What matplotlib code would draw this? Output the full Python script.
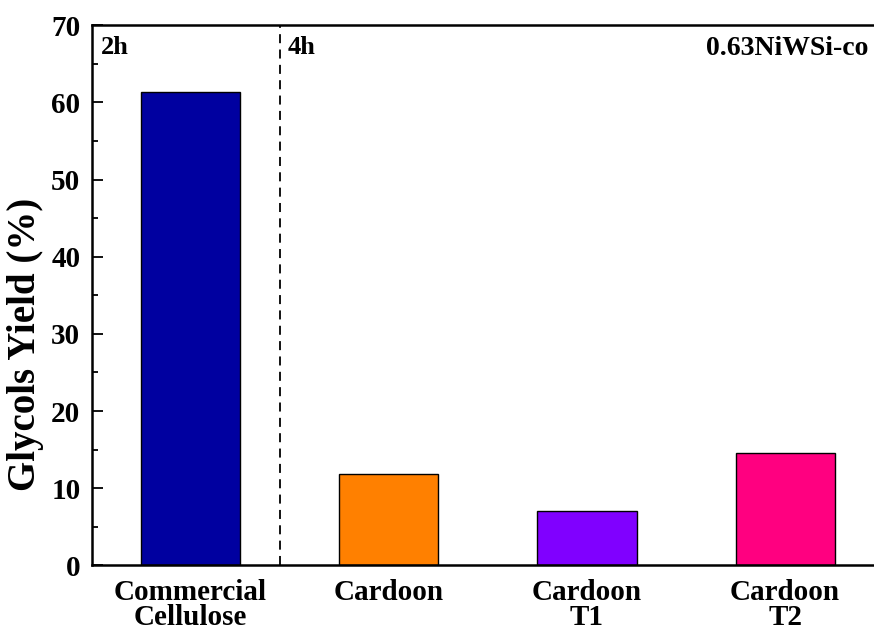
import matplotlib.pyplot as plt
import numpy as np

plt.rcParams['font.family'] = ['Liberation Serif', 'DejaVu Serif']
plt.rcParams['font.weight'] = 'bold'

samples = ['Commercial\nCellulose', 'Cardoon', 'Cardoon\nT1', 'Cardoon\nT2']
glycols_yield = [61.4, 11.9, 7.0, 14.6]
bar_colors = ['#0000A0', '#FF8000', '#8000FF', '#FF0080']

fig = plt.figure(figsize=(8.74, 6.31), dpi=100)
ax1 = fig.add_axes([0.1047, 0.104, 0.907, 0.856])

x = np.arange(1, len(samples) + 1)
ax1.bar(x, glycols_yield, width=0.5, color=bar_colors, edgecolor='black', linewidth=1.0)

# separation between 2h and 4h reactions
ax1.axvline(1.45, color='black', linestyle=(0, (5, 3.5)), linewidth=1.3)

fontSize = 21
ax1.text(0.545, 68.6, '2h', fontsize=fontSize - 2, fontweight='bold', ha='left', va='top')
ax1.text(1.49, 68.6, '4h', fontsize=fontSize - 2, fontweight='bold', ha='left', va='top')
ax1.text(4.42, 68.6, '0.63NiWSi-co', fontsize=fontSize - 1, fontweight='bold', ha='right', va='top')

ax1.set_xlim(0.5, 4.5)
ax1.set_ylim(0, 70)
ax1.set_yticks(range(0, 71, 10))
ax1.set_yticks(range(5, 70, 10), minor=True)
ax1.set_xticks(x)
ax1.set_xticklabels(samples, fontsize=fontSize, fontweight='bold', linespacing=0.9)
ax1.tick_params(axis='y', which='major', direction='in', length=8, width=1.3, labelsize=fontSize, pad=8)
ax1.tick_params(axis='y', which='minor', direction='in', length=4, width=1.3)
ax1.tick_params(axis='x', length=0, pad=10)
for lbl in ax1.get_yticklabels():
    lbl.set_fontweight('bold')

ax1.set_ylabel('Glycols Yield (%)', fontsize=fontSize + 7, fontweight='bold')
ax1.yaxis.set_label_coords(-0.06, 0.41)

for side in ['top', 'bottom', 'left']:
    ax1.spines[side].set_linewidth(1.8)
ax1.spines['right'].set_visible(False)

plt.savefig('out.png', dpi=100)
